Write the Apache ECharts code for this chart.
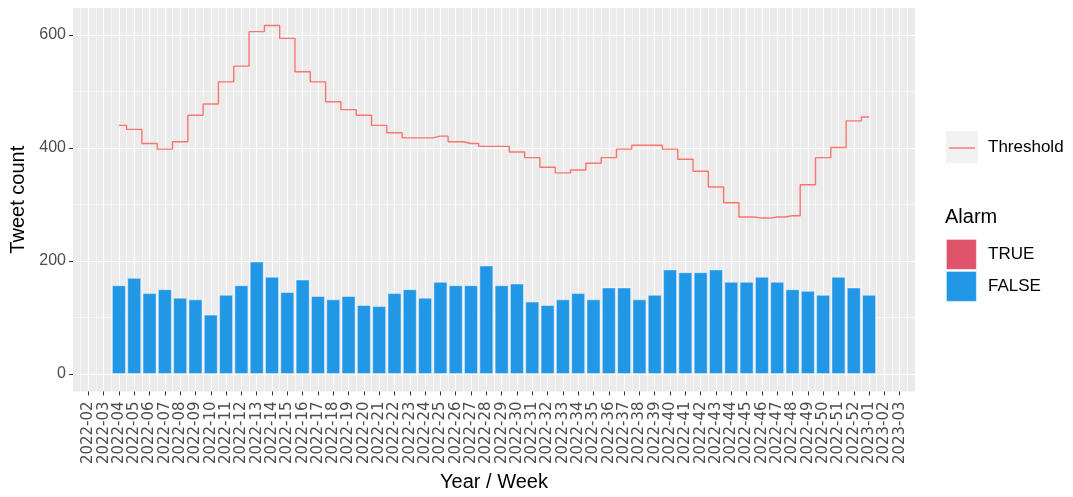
<!DOCTYPE html>
<html>
<head>
<meta charset="utf-8">
<script src="https://cdn.jsdelivr.net/npm/echarts@6/dist/echarts.min.js"></script>
<style>
  html, body { margin: 0; padding: 0; background: #fff; }
  #chart { width: 1073px; height: 497px; }
</style>
</head>
<body>
<div id="chart"></div>
<script>
// week labels on the x axis (2022-02 .. 2023-03)
const weekLabels = [
  "2022-02", "2022-03", "2022-04", "2022-05", "2022-06", "2022-07", "2022-08", "2022-09",
  "2022-10", "2022-11", "2022-12", "2022-13", "2022-14", "2022-15", "2022-16", "2022-17",
  "2022-18", "2022-19", "2022-20", "2022-21", "2022-22", "2022-23", "2022-24", "2022-25",
  "2022-26", "2022-27", "2022-28", "2022-29", "2022-30", "2022-31", "2022-32", "2022-33",
  "2022-34", "2022-35", "2022-36", "2022-37", "2022-38", "2022-39", "2022-40", "2022-41",
  "2022-42", "2022-43", "2022-44", "2022-45", "2022-46", "2022-47", "2022-48", "2022-49",
  "2022-50", "2022-51", "2022-52", "2023-01", "2023-02", "2023-03",
];

// weeks that have data: 2022-04 .. 2023-01
const dataWeeks = weekLabels.slice(2, 52);

const tweetCounts = [
  157, 170, 143, 150, 135, 132, 105, 140, 157, 199,
  172, 145, 167, 138, 132, 138, 122, 120, 143, 150,
  135, 163, 157, 157, 192, 157, 160, 128, 122, 132,
  143, 132, 153, 153, 132, 140, 185, 180, 180, 185,
  163, 163, 172, 163, 150, 147, 140, 172, 153, 140,
];

const thresholds = [
  440, 433, 408, 398, 411, 458, 478, 517, 545, 606,
  617, 594, 535, 517, 482, 468, 458, 440, 427, 418,
  418, 421, 411, 408, 403, 403, 393, 383, 366, 356,
  361, 373, 383, 398, 405, 405, 398, 380, 359, 331,
  303, 278, 276, 278, 280, 335, 383, 401, 448, 455,
];

const yTicks = [0, 200, 400, 600];
const yMinorTicks = [100, 300, 500];

const trueColor = "#DF536B";
const falseColor = "#2297E6";
const thresholdColor = "#F8766D";
const textColor = "#4D4D4D";
const fontFamily = "Liberation Sans, Arial, sans-serif";

const xIndex = (week) => weekLabels.indexOf(week);

const chart = echarts.init(document.getElementById("chart"), null, { renderer: "canvas" });

const yMin = -30.85;
const yMax = 647.85;

chart.setOption({
  animation: false,
  textStyle: { fontFamily },
  grid: {
    left: 73, right: 158, top: 8, bottom: 100,
    show: true, backgroundColor: "#EBEBEB", borderWidth: 0,
  },
  xAxis: {
    type: "value",
    min: -1,
    max: 54,
    interval: 1,
    name: "Year / Week",
    nameLocation: "middle",
    nameGap: 80,
    nameTextStyle: { color: "#000", fontSize: 20, fontFamily },
    axisLine: { show: false, onZero: false },
    axisTick: {
      customValues: weekLabels.map((w, i) => i),
      length: 4,
      lineStyle: { color: "#333", width: 1 },
    },
    axisLabel: {
      customValues: weekLabels.map((w, i) => i),
      formatter: (v) => weekLabels[v] || "",
      rotate: 90,
      margin: 10,
      hideOverlap: false,
      color: textColor,
      fontSize: 15,
      fontFamily: "DejaVu Sans, sans-serif",
    },
    splitLine: { show: true, lineStyle: { color: "#fff", width: 1.1 } },
    minorTick: { show: false, splitNumber: 2 },
    minorSplitLine: { show: true, lineStyle: { color: "#fff", width: 0.55 } },
  },
  yAxis: [
    {
      type: "value",
      min: yMin,
      max: yMax,
      name: "Tweet count",
      nameLocation: "middle",
      nameGap: 44,
      nameRotate: 90,
      nameTextStyle: { color: "#000", fontSize: 20, fontFamily },
      axisLine: { show: false, onZero: false },
      axisTick: { show: true, customValues: yTicks, length: 4, lineStyle: { color: "#333" } },
      axisLabel: { customValues: yTicks, margin: 7, color: textColor, fontSize: 16, fontFamily },
      splitLine: { show: true, lineStyle: { color: "#fff", width: 1.1 } },
    },
    {
      type: "value",
      min: yMin,
      max: yMax,
      position: "left",
      axisLine: { show: false, onZero: false },
      axisTick: { show: false, customValues: yMinorTicks },
      axisLabel: { show: false, customValues: yMinorTicks },
      splitLine: { show: true, lineStyle: { color: "#fff", width: 0.55 } },
    },
  ],
  series: [
    {
      name: "FALSE",
      type: "bar",
      barWidth: 13.8,
      itemStyle: { color: falseColor, borderColor: "rgba(255,255,255,0.55)", borderWidth: 0.8 },
      data: dataWeeks.map((w, i) => [xIndex(w), tweetCounts[i]]),
      z: 2,
    },
    {
      name: "Threshold",
      type: "line",
      step: "middle",
      symbol: "none",
      lineStyle: { color: thresholdColor, width: 1.4 },
      data: dataWeeks.map((w, i) => [xIndex(w), thresholds[i]]),
      z: 3,
    },
  ],
  graphic: [
    { type: "rect", left: 946, top: 131, shape: { width: 32, height: 32 }, style: { fill: "#F2F2F2" } },
    { type: "line", shape: { x1: 949, y1: 148, x2: 975, y2: 148 }, style: { stroke: thresholdColor, lineWidth: 1.4 } },
    { type: "text", left: 988, top: 139, style: { text: "Threshold", fill: "#000", font: `17px ${fontFamily}` } },
    { type: "text", left: 945, top: 207, style: { text: "Alarm", fill: "#000", font: `20px ${fontFamily}` } },
    { type: "rect", left: 946, top: 239, shape: { width: 30, height: 30 }, style: { fill: trueColor, stroke: "rgba(255,255,255,0.6)", lineWidth: 0.8 } },
    { type: "rect", left: 946, top: 271, shape: { width: 30, height: 30 }, style: { fill: falseColor, stroke: "rgba(255,255,255,0.6)", lineWidth: 0.8 } },
    { type: "text", left: 988, top: 246, style: { text: "TRUE", fill: "#000", font: `17px ${fontFamily}` } },
    { type: "text", left: 988, top: 278, style: { text: "FALSE", fill: "#000", font: `17px ${fontFamily}` } },
  ],
});
</script>
</body>
</html>
